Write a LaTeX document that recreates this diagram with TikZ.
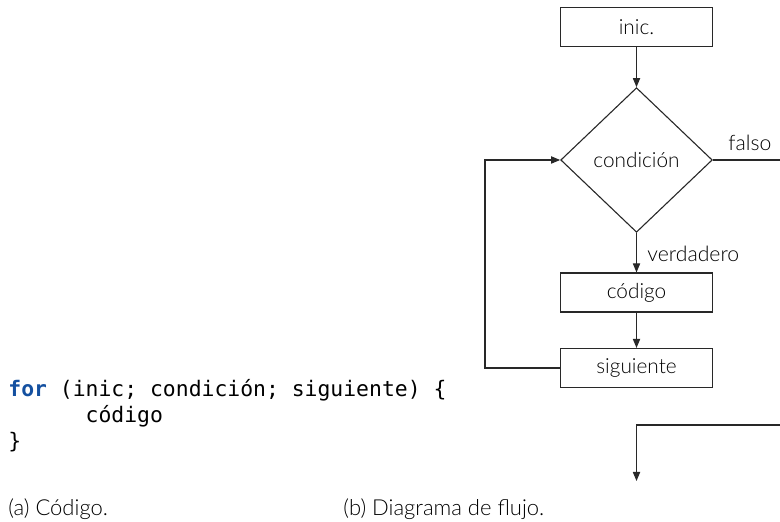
\documentclass[tikz,border=0pt]{standalone}
\usepackage{fontspec}
\setmainfont{Lato}[UprightFont=* Light]
\newfontfamily\codefont{DejaVu Sans Mono}
\usetikzlibrary{shapes.geometric,arrows.meta}
\definecolor{kwblue}{RGB}{20,80,160}
\definecolor{linegray}{RGB}{40,40,40}
\begin{document}
\begin{tikzpicture}[x=0.5pt,y=-0.5pt,
  procbox/.style={draw=linegray,line width=0.55pt,minimum width=75.8pt,minimum height=19.5pt,inner sep=0pt,font=\fontsize{10.4}{12}\selectfont},
  decbox/.style={draw=linegray,line width=0.55pt,diamond,minimum width=75.8pt,minimum height=72.3pt,inner sep=0pt,font=\fontsize{10.4}{12}\selectfont},
  conn/.style={draw=linegray,line width=0.55pt},
  arr/.style={conn,-{Triangle[length=4.5pt,width=3.6pt]}},
  lbl/.style={inner sep=0pt,anchor=base west,font=\fontsize{10.6}{12}\selectfont},
  codetxt/.style={inner sep=0pt,anchor=base west,font=\codefont\fontsize{10.7}{13}\selectfont},
  captxt/.style={inner sep=0pt,anchor=base west,font=\fontsize{11}{13}\selectfont}]
\useasboundingbox (0,0) rectangle (780,522);
% flowchart
\node[procbox] (inic) at (636.5,27) {inic.};
\node[decbox] (cond) at (636.5,160) {condición};
\node[procbox] (cod) at (636.5,292.5) {código};
\node[procbox] (sig) at (636.5,368) {siguiente};
\coordinate (loopb) at (485,368);
\coordinate (loopt) at (485,160);
\coordinate (fend) at (780,160);
\coordinate (bstart) at (780,425);
\coordinate (bcorner) at (636.5,425);
\coordinate (bend) at (636.5,481);
\draw[arr] (inic.south) -- (cond.north);
\draw[arr] (cond.south) -- (cod.north);
\draw[arr] (cod.south) -- (sig.north);
\draw[arr] (sig.west) -- (loopb) -- (loopt) -- (cond.west);
\draw[conn] (cond.east) -- (fend);
\draw[arr] (bstart) -- (bcorner) -- (bend);
\node[lbl] (fal) at (728,151) {falso};
\node[lbl] (ver) at (647,262) {verdadero};
% code
\node[codetxt] (l1) at (8,397) {\textcolor{kwblue}{\textbf{for}} (inic; condición; siguiente) \{};
\node[codetxt] (l2) at (8,423) {\hphantom{aaaaaa}código};
\node[codetxt] (l3) at (8,449) {\}};
% captions
\node[captxt] (capa) at (8,516) {(a) Código.};
\node[captxt] (capb) at (343,516) {(b) Diagrama de flujo.};
\end{tikzpicture}
\end{document}
